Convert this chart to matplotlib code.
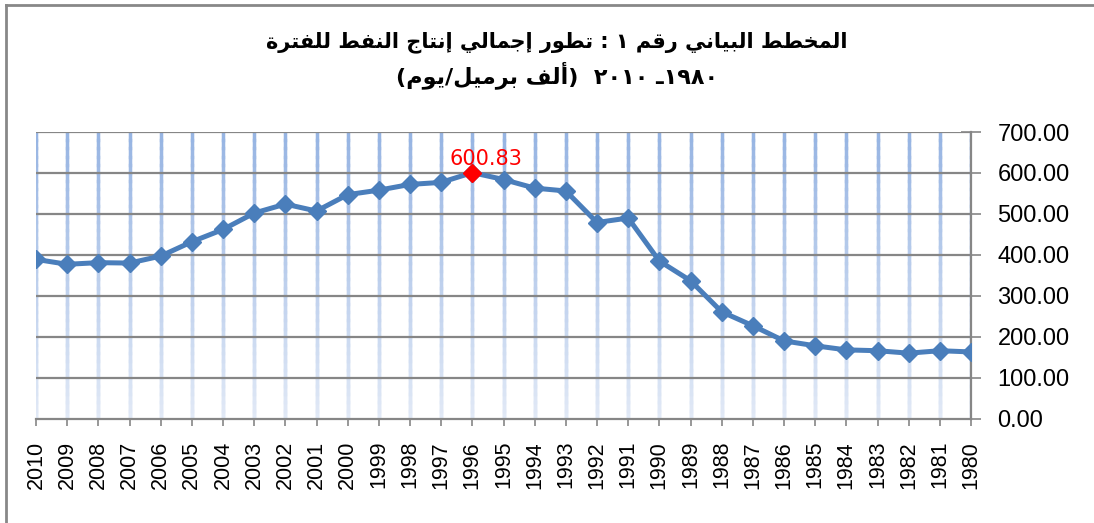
import re
import matplotlib
matplotlib.use('Agg')
import matplotlib.pyplot as plt
from matplotlib.collections import LineCollection
from matplotlib.lines import Line2D
import numpy as np

# data (thousand barrels/day)
years = [2010, 2009, 2008, 2007, 2006, 2005, 2004, 2003, 2002, 2001, 2000,
         1999, 1998, 1997, 1996, 1995, 1994, 1993, 1992, 1991, 1990,
         1989, 1988, 1987, 1986, 1985, 1984, 1983, 1982, 1981, 1980]
production = [389, 377, 381, 380, 397, 432, 462, 502, 524, 507, 547,
              558, 572, 577, 600.83, 584, 563, 556, 479, 490, 385,
              337, 261, 227, 190, 178, 168, 166, 160, 166, 163]
peak_year = 1996
y_ticks = [0, 100, 200, 300, 400, 500, 600, 700]

title_line1 = 'المخطط البياني رقم ١ : تطور إجمالي إنتاج النفط للفترة'
title_line2 = '١٩٨٠ـ ٢٠١٠  (ألف برميل/يوم)'


# minimal arabic shaping (no reshaper lib in the sandbox)
# isolated, final, initial, medial
FORMS = {
    'ا': ('\uFE8D', '\uFE8E', None, None),
    'أ': ('\uFE83', '\uFE84', None, None),
    'إ': ('\uFE87', '\uFE88', None, None),
    'ب': ('\uFE8F', '\uFE90', '\uFE91', '\uFE92'),
    'ة': ('\uFE93', '\uFE94', None, None),
    'ت': ('\uFE95', '\uFE96', '\uFE97', '\uFE98'),
    'ج': ('\uFE9D', '\uFE9E', '\uFE9F', '\uFEA0'),
    'خ': ('\uFEA5', '\uFEA6', '\uFEA7', '\uFEA8'),
    'ر': ('\uFEAD', '\uFEAE', None, None),
    'ط': ('\uFEC1', '\uFEC2', '\uFEC3', '\uFEC4'),
    'ف': ('\uFED1', '\uFED2', '\uFED3', '\uFED4'),
    'ق': ('\uFED5', '\uFED6', '\uFED7', '\uFED8'),
    'ل': ('\uFEDD', '\uFEDE', '\uFEDF', '\uFEE0'),
    'م': ('\uFEE1', '\uFEE2', '\uFEE3', '\uFEE4'),
    'ن': ('\uFEE5', '\uFEE6', '\uFEE7', '\uFEE8'),
    'و': ('\uFEED', '\uFEEE', None, None),
    'ي': ('\uFEF1', '\uFEF2', '\uFEF3', '\uFEF4'),
    'ـ': ('ـ', 'ـ', 'ـ', 'ـ'),
}


def joins_next(c):
    return c in FORMS and FORMS[c][2] is not None


def shape(text):
    out = []
    for i, c in enumerate(text):
        if c not in FORMS:
            out.append(c)
            continue
        prev_j = i > 0 and joins_next(text[i - 1])
        next_j = joins_next(c) and i + 1 < len(text) and text[i + 1] in FORMS
        iso, fin, ini, med = FORMS[c]
        if prev_j and next_j:
            out.append(med)
        elif prev_j:
            out.append(fin)
        elif next_j:
            out.append(ini)
        else:
            out.append(iso)
    return ''.join(out)


def visual(text):
    mirror = {'(': ')', ')': '('}
    tokens = re.findall(r'[\u0660-\u0669]+|[^\u0660-\u0669]+', shape(text))
    res = []
    for t in reversed(tokens):
        if re.match(r'[\u0660-\u0669]', t):
            res.append(t)
        else:
            res.append(''.join(mirror.get(ch, ch) for ch in reversed(t)))
    return ''.join(res)


line_color = '#4a7ebb'
grid_gray = '#868686'

fig = plt.figure(figsize=(10.94, 5.23), dpi=100)
ax = fig.add_axes([36 / 1094, 104.3 / 523, 935 / 1094, 286.7 / 523])

x = np.arange(len(years))

# vertical gridlines with a light-blue fade towards the bottom
top_c = np.array(matplotlib.colors.to_rgb('#95b3e2'))
bot_c = np.array(matplotlib.colors.to_rgb('#e1e9f6'))
ys = np.linspace(0, 700, 36)
for xi in x:
    ax.axvline(xi, color='#c3d3ee', lw=2.4, zorder=0.5)
    segs = [[(xi, ys[k]), (xi, ys[k + 1])] for k in range(len(ys) - 1)]
    cols = [bot_c + (top_c - bot_c) * (ys[k] / 700) for k in range(len(ys) - 1)]
    ax.add_collection(LineCollection(segs, colors=cols, linewidths=2.4,
                                     capstyle='projecting', zorder=1))

for yv in y_ticks[1:]:
    ax.axhline(yv, color=grid_gray, lw=1.6, zorder=2)

ax.plot(x, production, color=line_color, lw=3.6, marker='D', markersize=9,
        markeredgecolor=line_color, zorder=3)

pk = years.index(peak_year)
ax.plot(x[pk], production[pk], marker='D', markersize=9, color='red', zorder=4)
ax.text(x[pk] + 0.45, production[pk] + 9, f'{production[pk]:.2f}', color='red',
        fontsize=15, ha='center', va='bottom', zorder=5)

ax.set_xlim(0, len(years) - 1)
ax.set_ylim(0, 700)
ax.set_xticks(x)
ax.set_xticklabels([str(y) for y in years], rotation=90, fontsize=15.5,
                   family='Liberation Sans')
ax.set_yticks(y_ticks)
ax.set_yticklabels([f'{v:.2f}' for v in y_ticks], fontsize=17,
                   family='Liberation Sans')
ax.yaxis.tick_right()

for s in ['left', 'top']:
    ax.spines[s].set_visible(False)
for s in ['right', 'bottom']:
    ax.spines[s].set_color(grid_gray)
    ax.spines[s].set_linewidth(1.6)

ax.tick_params(axis='x', direction='out', length=5, width=1.2, color=grid_gray,
               pad=11)
ax.tick_params(axis='y', direction='inout', length=14, width=1.2, color=grid_gray,
               pad=12)

fig.text(0.509, 0.92, visual(title_line1), ha='center', va='center',
         fontsize=15, fontweight='bold', family=['DejaVu Sans'])
fig.text(0.509, 0.857, visual(title_line2), ha='center', va='center',
         fontsize=16, fontweight='bold', family=['DejaVu Sans'])

# chart frame (only left and top edges show in the source)
fig.add_artist(Line2D([6 / 1094, 6 / 1094], [0, 1 - 4.5 / 523],
                      transform=fig.transFigure, color='#888888', lw=2))
fig.add_artist(Line2D([6 / 1094, 1], [1 - 4.5 / 523, 1 - 4.5 / 523],
                      transform=fig.transFigure, color='#888888', lw=2))

fig.savefig('out.png', dpi=100)
